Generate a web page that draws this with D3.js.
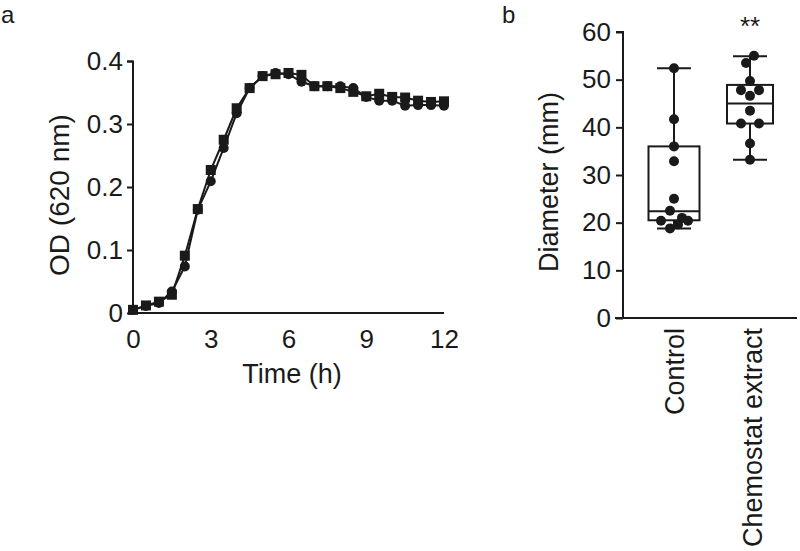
<!DOCTYPE html>
<html><head><meta charset="utf-8">
<script src="https://cdn.jsdelivr.net/npm/d3@7"></script>
<style>body{margin:0;background:#fff}svg{display:block;font-family:"Liberation Sans",Arial,sans-serif}</style>
</head><body><svg id="c" width="800" height="551"></svg>
<script>
const times = [0,0.5,1,1.5,2,2.5,3,3.5,4,4.5,5,5.5,6,6.5,7,7.5,8,8.5,9,9.5,10,10.5,11,11.5,12];
const odSquares = [0.005,0.012,0.018,0.029,0.091,0.165,0.227,0.275,0.325,0.357,0.376,0.379,0.381,0.378,0.360,0.360,0.357,0.351,0.344,0.348,0.343,0.342,0.337,0.335,0.336];
const odCircles = [0.005,0.011,0.016,0.034,0.074,0.164,0.209,0.262,0.317,0.357,0.376,0.381,0.379,0.367,0.360,0.360,0.360,0.357,0.343,0.337,0.337,0.329,0.330,0.330,0.329];
const odTicks = [0,0.1,0.2,0.3,0.4];
const timeTicks = [0,3,6,9,12];

const groups = ["Control","Chemostat extract"];
const controlPts = [52.4,41.7,36.0,32.9,25.0,22.5,20.4,21.0,20.4,19.6,18.8];
const controlJitter = [0,0,0,0,0,-4,-13,8,14,4,-4];
const chemoPts = [55.0,53.5,49.7,47.8,47.8,46.6,43.5,40.8,40.8,36.6,33.2];
const chemoJitter = [4,-4,0,-9,9,0,0,-9,9,0,0];
const boxStats = [
  {min:18.8,q1:20.5,med:22.4,q3:36.0,max:52.4},
  {min:33.2,q1:40.8,med:45.0,q3:48.9,max:54.9}
];
const diamTicks = [0,10,20,30,40,50,60];

const svg = d3.select("#c");
const ink = "#1a1a1a";
const FS = 26;

// Panel a
const x = d3.scaleLinear().domain([0,12]).range([133,444]);
const y = d3.scaleLinear().domain([0,0.4]).range([313,61]);
const ga = svg.append("g");
const yAx = ga.append("g").attr("transform","translate(133,0)")
  .call(d3.axisLeft(y).tickValues(odTicks).tickFormat(d=>d===0?"0":d3.format(".1f")(d)).tickSize(6).tickPadding(4));
const xAx = ga.append("g").attr("transform","translate(0,313)")
  .call(d3.axisBottom(x).tickValues(timeTicks).tickSize(0).tickPadding(0));
[yAx,xAx].forEach(a=>{a.select(".domain").attr("stroke",ink).attr("stroke-width",2);
  a.selectAll(".tick line").attr("stroke",ink).attr("stroke-width",2);
  a.selectAll("text").attr("font-size",FS).attr("fill",ink);});
xAx.selectAll(".tick text").attr("y",35).attr("dy",0);
xAx.select(".domain").attr("d","M128,0H444");
yAx.select(".domain").attr("d","M-6,61.5H0V313");

const line = d3.line().x((d,i)=>x(times[i])).y(d=>y(d));
[odCircles,odSquares].forEach(s=>{
  ga.append("path").datum(s).attr("d",line).attr("fill","none").attr("stroke",ink).attr("stroke-width",2);
});
ga.append("g").selectAll("circle").data(odCircles).join("circle")
  .attr("cx",(d,i)=>x(times[i])).attr("cy",d=>y(d)).attr("r",5).attr("fill",ink);
ga.append("g").selectAll("rect").data(odSquares).join("rect")
  .attr("x",(d,i)=>x(times[i])-5).attr("y",d=>y(d)-5).attr("width",10).attr("height",10).attr("fill",ink);

ga.append("text").attr("x",292).attr("y",383).attr("text-anchor","middle").attr("font-size",27).attr("fill",ink).text("Time (h)");
ga.append("text").attr("transform","translate(69,195) rotate(-90)").attr("text-anchor","middle").attr("font-size",28).attr("fill",ink).text("OD (620 nm)");
svg.append("text").attr("x",1).attr("y",23).attr("font-size",24).attr("fill",ink).text("a");

// Panel b
const xb = d3.scaleBand().domain(groups).range([636,788]).padding(0);
const yb = d3.scaleLinear().domain([0,60]).range([318,32]);
const gb = svg.append("g");
const yAxB = gb.append("g").attr("transform","translate(623,0)")
  .call(d3.axisLeft(yb).tickValues(diamTicks).tickSize(7).tickPadding(5));
yAxB.select(".domain").attr("d","M-7,32H0V318");
yAxB.select(".domain").attr("stroke",ink).attr("stroke-width",2);
yAxB.selectAll(".tick line").attr("stroke",ink).attr("stroke-width",2);
yAxB.selectAll("text").attr("font-size",FS).attr("fill",ink);
gb.append("line").attr("x1",615).attr("x2",797).attr("y1",318).attr("y2",318).attr("stroke",ink).attr("stroke-width",2);

const bw = [51,46];
const labOff = [10,12];
groups.forEach((g,i)=>{
  const cx = xb(g)+xb.bandwidth()/2;
  const s = boxStats[i];
  const w = bw[i];
  gb.append("line").attr("x1",cx).attr("x2",cx).attr("y1",yb(s.max)).attr("y2",yb(s.min)).attr("stroke",ink).attr("stroke-width",2);
  gb.append("rect").attr("x",cx-w/2).attr("y",yb(s.q3)).attr("width",w).attr("height",yb(s.q1)-yb(s.q3)).attr("fill","#fff").attr("stroke",ink).attr("stroke-width",2);
  gb.append("line").attr("x1",cx-w/2).attr("x2",cx+w/2).attr("y1",yb(s.med)).attr("y2",yb(s.med)).attr("stroke",ink).attr("stroke-width",2);
  [s.max,s.min].forEach(v=>gb.append("line").attr("x1",cx-17).attr("x2",cx+17).attr("y1",yb(v)).attr("y2",yb(v)).attr("stroke",ink).attr("stroke-width",2));
  const pts = i===0?controlPts:chemoPts, jit = i===0?controlJitter:chemoJitter;
  gb.append("g").selectAll("circle").data(pts).join("circle")
    .attr("cx",(d,k)=>cx+jit[k]).attr("cy",d=>yb(d)).attr("r",5).attr("fill",ink);
  gb.append("text").attr("transform",`translate(${cx+labOff[i]},328) rotate(-90)`).attr("text-anchor","end").attr("font-size",27).attr("fill",ink).text(g);
});
gb.append("text").attr("x",xb("Chemostat extract")+xb.bandwidth()/2).attr("y",35).attr("text-anchor","middle").attr("font-size",26).attr("fill",ink).text("**");
gb.append("text").attr("transform","translate(558,182) rotate(-90)").attr("text-anchor","middle").attr("font-size",27).attr("fill",ink).text("Diameter (mm)");
svg.append("text").attr("x",502).attr("y",23).attr("font-size",24).attr("fill",ink).text("b");
</script></body></html>
